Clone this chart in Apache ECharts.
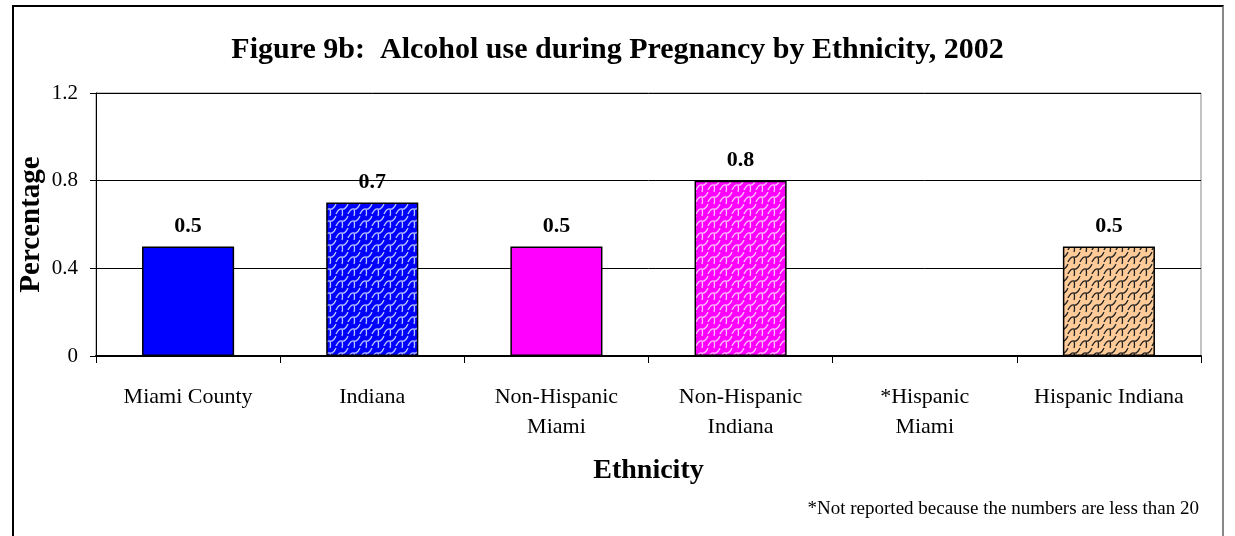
<!DOCTYPE html>
<html lang="en">
  <head>
    <meta charset="UTF-8" />
    <title>Figure 9b</title>
    <style>
      html, body { margin: 0; padding: 0; background: #fff; }
      .frame {
        position: absolute; left: 12px; top: 5px; width: 1208px; height: 540px;
        border-left: 2px solid #000; border-top: 2px solid #000; border-right: 2px solid #888;
      }
      #main { position: absolute; left: 0; top: 0; width: 1235px; height: 536px; }
    </style>
    <script src="https://cdn.jsdelivr.net/npm/echarts@6/dist/echarts.min.js"></script>
  </head>
  <body>
  <div class="frame"></div>
  <div id="main"></div>
  <script>
    var categories = ['Miami County', 'Indiana', 'Non-Hispanic\nMiami', 'Non-Hispanic\nIndiana', '*Hispanic\nMiami', 'Hispanic Indiana'];
    var values = [0.5, 0.7, 0.5, 0.8, null, 0.5];
    var yTicks = [0, 0.4, 0.8, 1.2];

    // wavy tile pattern like the excel fill
    function makePattern(bg, fg) {
      var c = document.createElement('canvas');
      c.width = 12; c.height = 12;
      var g = c.getContext('2d');
      g.fillStyle = bg;
      g.fillRect(0, 0, 12, 12);
      g.strokeStyle = fg;
      g.lineWidth = 1.3;
      for (var dx = -12; dx <= 12; dx += 12) {
        for (var dy = -12; dy <= 12; dy += 12) {
          g.beginPath();
          g.moveTo(dx + 0, dy + 10);
          g.quadraticCurveTo(dx + 3, dy + 4, dx + 6, dy + 5);
          g.quadraticCurveTo(dx + 9, dy + 6, dx + 12, dy + 0);
          g.stroke();
          g.beginPath();
          g.moveTo(dx + 6, dy + 5);
          g.quadraticCurveTo(dx + 7, dy + 9, dx + 6, dy + 12);
          g.stroke();
        }
      }
      return { image: c, repeat: 'repeat' };
    }

    var fills = [
      '#0000ff',
      makePattern('#0000ff', '#b8c4ff'),
      '#ff00ff',
      makePattern('#ff00ff', '#ffc0ff'),
      '#ffffff',
      makePattern('#ffcc99', '#222222')
    ];

    var chart = echarts.init(document.getElementById('main'));
    var font = '"Liberation Serif", "Times New Roman", serif';
    chart.setOption({
      animation: false,
      textStyle: { fontFamily: font, color: '#000' },
      title: {
        text: 'Figure 9b:  Alcohol use during Pregnancy by Ethnicity, 2002',
        left: 'center', top: 30,
        textStyle: { fontFamily: font, fontSize: 30, fontWeight: 'bold', color: '#000' }
      },
      grid: { left: 96, right: 34, top: 93, bottom: 180, show: true, borderColor: '#888', borderWidth: 1 },
      xAxis: {
        type: 'category',
        data: categories,
        name: 'Ethnicity',
        nameLocation: 'middle',
        nameGap: 101,
        nameMoveOverlap: false,
        nameTextStyle: { fontFamily: font, fontSize: 28, fontWeight: 'bold', color: '#000' },
        axisLine: { lineStyle: { color: '#000', width: 2 } },
        axisTick: { show: true, length: 7, lineStyle: { color: '#000' } },
        axisLabel: { fontFamily: font, fontSize: 22, color: '#000', margin: 26, lineHeight: 30, interval: 0 }
      },
      yAxis: {
        type: 'value',
        min: yTicks[0], max: yTicks[yTicks.length - 1], interval: 0.4,
        name: 'Percentage',
        nameLocation: 'middle',
        nameGap: 50,
        nameMoveOverlap: false,
        nameTextStyle: { fontFamily: font, fontSize: 29, fontWeight: 'bold', color: '#000' },
        axisLine: { show: true, lineStyle: { color: '#000', width: 1 } },
        axisTick: { show: true, length: 6, lineStyle: { color: '#000' } },
        axisLabel: { fontFamily: font, fontSize: 21, color: '#000', margin: 18 },
        splitLine: { lineStyle: { color: '#000', width: 1 } }
      },
      series: [{
        type: 'bar',
        barWidth: '50%',
        data: values.map(function (v, i) {
          return { value: v, itemStyle: { color: fills[i], borderColor: '#000', borderWidth: 1.5 } };
        }),
        label: {
          show: true, position: 'top', distance: 9,
          fontFamily: font, fontSize: 22, fontWeight: 'bold', color: '#000'
        }
      }],
      graphic: [{
        type: 'text',
        right: 36, top: 500,
        style: { text: '*Not reported because the numbers are less than 20', font: '19px ' + font, fill: '#000' }
      }]
    });
  </script>
  </body>
</html>
